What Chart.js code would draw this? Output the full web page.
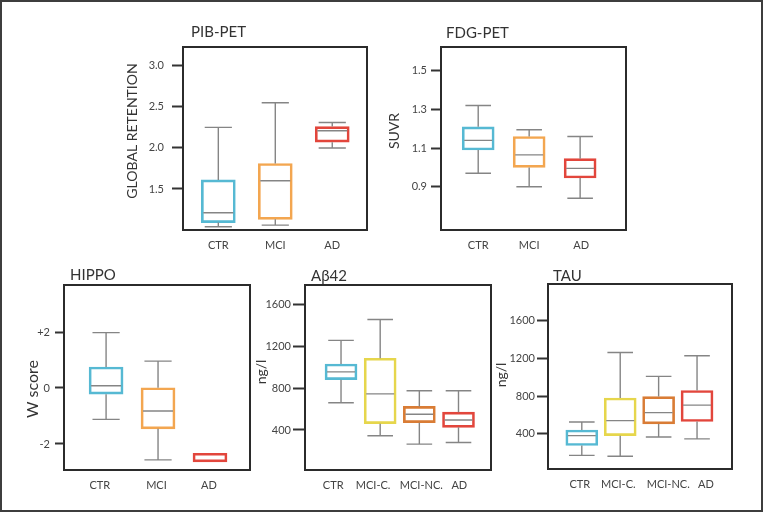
<!DOCTYPE html>
<html>
<head>
<meta charset="utf-8">
<script src="https://cdn.jsdelivr.net/npm/chart.js@4.4.1/dist/chart.umd.min.js"></script>
<style>
  html, body { margin: 0; padding: 0; background: #fff; }
  #wrap { position: relative; width: 763px; height: 512px; overflow: hidden; }
  #wrap canvas { position: absolute; left: 0; top: 0; }
  #frame { position: absolute; left: 0; top: 0; width: 763px; height: 512px;
           box-sizing: border-box; border: 2px solid #3d3d3d; }
</style>
</head>
<body>
<div id="wrap">
  <canvas id="pib" width="763" height="512"></canvas>
  <canvas id="fdg" width="763" height="512"></canvas>
  <canvas id="hippo" width="763" height="512"></canvas>
  <canvas id="abeta" width="763" height="512"></canvas>
  <canvas id="tau" width="763" height="512"></canvas>
  <div id="frame"></div>
</div>
<script>
// PIB-PET
const pibCats   = ["CTR", "MCI", "AD"];
const pibLow    = [1.04, 1.06, 2.00];
const pibQ1     = [1.09, 1.13, 2.07];
const pibMedian = [1.21, 1.60, 2.21];
const pibQ3     = [1.61, 1.81, 2.26];
const pibHigh   = [2.25, 2.55, 2.31];
const pibTicks  = [1.5, 2.0, 2.5, 3.0];

// FDG-PET
const fdgCats   = ["CTR", "MCI", "AD"];
const fdgLow    = [0.97, 0.90, 0.84];
const fdgQ1     = [1.09, 1.00, 0.945];
const fdgMedian = [1.14, 1.065, 0.995];
const fdgQ3     = [1.21, 1.16, 1.045];
const fdgHigh   = [1.32, 1.195, 1.16];
const fdgTicks  = [0.9, 1.1, 1.3, 1.5];

// HIPPO
const hipCats   = ["CTR", "MCI", "AD"];
const hipLow    = [-1.12, -2.57, -2.64];
const hipQ1     = [-0.22, -1.46, -2.64];
const hipMedian = [0.08, -0.82, null];
const hipQ3     = [0.75, 0.01, -2.33];
const hipHigh   = [1.98, 0.96, -2.33];
const hipTicks  = [-2, 0, 2];

// Abeta42
const abCats   = ["CTR", "MCI-C.", "MCI-NC.", "AD"];
const abLow    = [660, 345, 265, 280];
const abQ1     = [880, 460, 470, 425];
const abMedian = [955, 745, 550, 495];
const abQ3     = [1030, 1085, 625, 570];
const abHigh   = [1255, 1455, 775, 775];
const abTicks  = [400, 800, 1200, 1600];

// TAU
const tauCats   = ["CTR", "MCI-C.", "MCI-NC.", "AD"];
const tauLow    = [170, 160, 365, 345];
const tauQ1     = [275, 380, 505, 530];
const tauMedian = [380, 540, 625, 705];
const tauQ3     = [440, 780, 795, 860];
const tauHigh   = [525, 1265, 1010, 1230];
const tauTicks  = [400, 800, 1200, 1600];

const FONT = "Lato, 'Open Sans', sans-serif";
const BLUE = "#56b9d3", ORANGE = "#f3a650", YELLOW = "#e6d64c", DKORANGE = "#d97c35", RED = "#e2463c";

// whiskers + medians drawn on top of the floating bars
const boxPlot = {
  id: "boxPlot",
  afterDatasetsDraw(chart) {
    const ctx = chart.ctx;
    const y = chart.scales.y;
    const ds = chart.data.datasets[0];
    const meta = chart.getDatasetMeta(0);
    ctx.save();
    ctx.strokeStyle = "#858585";
    ctx.lineWidth = 1.4;
    meta.data.forEach((bar, i) => {
      const cx = bar.x, w = bar.width, cap = w * 0.4;
      const yq1 = y.getPixelForValue(ds.q1[i]);
      const yq3 = y.getPixelForValue(ds.q3[i]);
      ctx.beginPath();
      if (ds.low[i] < ds.q1[i]) {
        const yl = y.getPixelForValue(ds.low[i]);
        ctx.moveTo(cx, yq1); ctx.lineTo(cx, yl);
        ctx.moveTo(cx - cap, yl); ctx.lineTo(cx + cap, yl);
      }
      if (ds.high[i] > ds.q3[i]) {
        const yh = y.getPixelForValue(ds.high[i]);
        ctx.moveTo(cx, yq3); ctx.lineTo(cx, yh);
        ctx.moveTo(cx - cap, yh); ctx.lineTo(cx + cap, yh);
      }
      if (ds.median[i] !== null) {
        const ym = y.getPixelForValue(ds.median[i]);
        ctx.moveTo(cx - w / 2 + 2, ym); ctx.lineTo(cx + w / 2 - 2, ym);
      }
      ctx.stroke();
    });
    ctx.restore();
  }
};

// panel frame, title and y label
const panelDeco = {
  id: "panelDeco",
  afterDraw(chart, args, o) {
    const ctx = chart.ctx, a = chart.chartArea;
    ctx.save();
    ctx.strokeStyle = "#2b2b2b";
    ctx.lineWidth = 2;
    ctx.strokeRect(a.left, a.top, a.right - a.left, a.bottom - a.top);
    ctx.fillStyle = "#333";
    ctx.textBaseline = "middle";
    ctx.textAlign = "left";
    ctx.font = "15px " + FONT;
    ctx.fillText(o.title, o.titleX, o.titleY);
    ctx.translate(o.labelX, o.labelY);
    ctx.rotate(-Math.PI / 2);
    ctx.textAlign = "center";
    ctx.font = o.labelSize + "px " + FONT;
    ctx.fillText(o.label, 0, 0);
    ctx.restore();
  }
};

function makePanel(id, p) {
  const yW = 40, xH = 30;
  new Chart(document.getElementById(id), {
    type: "bar",
    data: {
      datasets: [{
        data: p.cats.map((c, i) => ({ x: i, y: [p.q1[i], p.q3[i]] })),
        low: p.low, q1: p.q1, median: p.median, q3: p.q3, high: p.high,
        backgroundColor: "rgba(255,255,255,0)",
        borderColor: p.colors,
        borderWidth: 2,
        borderSkipped: false,
        barThickness: p.boxW
      }]
    },
    options: {
      responsive: false,
      animation: false,
      events: [],
      layout: {
        padding: { left: p.area[0] - yW, top: p.area[1], right: 763 - p.area[2], bottom: 512 - p.area[3] - xH }
      },
      plugins: {
        legend: { display: false },
        tooltip: { enabled: false },
        panelDeco: p.deco
      },
      scales: {
        x: {
          type: "linear", min: p.xMin, max: p.xMax, offset: false,
          afterFit: s => { s.height = xH; },
          // label anchor positions (in category units) as set in the original figure
          afterBuildTicks: s => { s.ticks = p.labelPos.map(v => ({ value: v })); },
          ticks: { callback: (v, i) => p.cats[i], color: "#444", font: { family: FONT, size: 11 }, padding: 9, maxRotation: 0, autoSkip: false },
          grid: { display: false, drawTicks: false, offset: false },
          border: { display: false }
        },
        y: {
          min: p.yMin, max: p.yMax,
          afterFit: s => { s.width = yW; },
          afterBuildTicks: s => { s.ticks = p.ticks.map(v => ({ value: v })); },
          ticks: { callback: p.fmt, color: "#444", font: { family: FONT, size: 11 }, padding: p.tickPad, autoSkip: false },
          grid: { drawOnChartArea: false, tickLength: p.tickLen, tickWidth: 2, tickColor: "#333" },
          border: { display: false }
        }
      }
    },
    plugins: [boxPlot, panelDeco]
  });
}

makePanel("pib", {
  cats: pibCats, low: pibLow, q1: pibQ1, median: pibMedian, q3: pibQ3, high: pibHigh, ticks: pibTicks,
  colors: [BLUE, ORANGE, RED], boxW: 34, labelPos: [0, 1, 2],
  area: [183, 47, 367, 230], yMin: 1.0, yMax: 3.23, xMin: -0.62, xMax: 2.61,
  fmt: v => v.toFixed(1), tickLen: 11, tickPad: 8,
  deco: { title: "PIB-PET", titleX: 191, titleY: 32, label: "GLOBAL RETENTION", labelX: 132, labelY: 131, labelSize: 14 }
});

makePanel("fdg", {
  cats: fdgCats, low: fdgLow, q1: fdgQ1, median: fdgMedian, q3: fdgQ3, high: fdgHigh, ticks: fdgTicks,
  colors: [BLUE, ORANGE, RED], boxW: 32, labelPos: [0, 1, 2.02],
  area: [441, 47, 626, 230], yMin: 0.676, yMax: 1.623, xMin: -0.73, xMax: 2.9,
  fmt: v => v.toFixed(1), tickLen: 10, tickPad: 4,
  deco: { title: "FDG-PET", titleX: 446, titleY: 33, label: "SUVR", labelX: 394, labelY: 131, labelSize: 14 }
});

makePanel("hippo", {
  cats: hipCats, low: hipLow, q1: hipQ1, median: hipMedian, q3: hipQ3, high: hipHigh, ticks: hipTicks,
  colors: [BLUE, ORANGE, RED], boxW: 34, labelPos: [-0.12, 0.97, 1.98],
  area: [64, 285, 250, 470], yMin: -2.93, yMax: 3.68, xMin: -0.81, xMax: 2.77,
  fmt: v => (v > 0 ? "+" + v : String(v)), tickLen: 9, tickPad: 5,
  deco: { title: "HIPPO", titleX: 70, titleY: 275, label: "W score", labelX: 33, labelY: 389, labelSize: 16 }
});

makePanel("abeta", {
  cats: abCats, low: abLow, q1: abQ1, median: abMedian, q3: abQ3, high: abHigh, ticks: abTicks,
  colors: [BLUE, YELLOW, DKORANGE, RED], boxW: 32, labelPos: [-0.2, 0.82, 2.05, 3.02],
  area: [305, 285, 491, 470], yMin: 18, yMax: 1784, xMin: -0.92, xMax: 3.83,
  fmt: v => String(v), tickLen: 12, tickPad: 2,
  deco: { title: "Aβ42", titleX: 311, titleY: 276, label: "ng/l", labelX: 261, labelY: 372, labelSize: 14 }
});

makePanel("tau", {
  cats: tauCats, low: tauLow, q1: tauQ1, median: tauMedian, q3: tauQ3, high: tauHigh, ticks: tauTicks,
  colors: [BLUE, YELLOW, DKORANGE, RED], boxW: 32, labelPos: [-0.05, 0.95, 2.25, 3.23],
  area: [548, 284, 732, 469], yMin: 25, yMax: 1993, xMin: -0.88, xMax: 3.91,
  fmt: v => String(v), tickLen: 11, tickPad: 2,
  deco: { title: "TAU", titleX: 553, titleY: 276, label: "ng/l", labelX: 501, labelY: 375, labelSize: 14 }
});
</script>
</body>
</html>
